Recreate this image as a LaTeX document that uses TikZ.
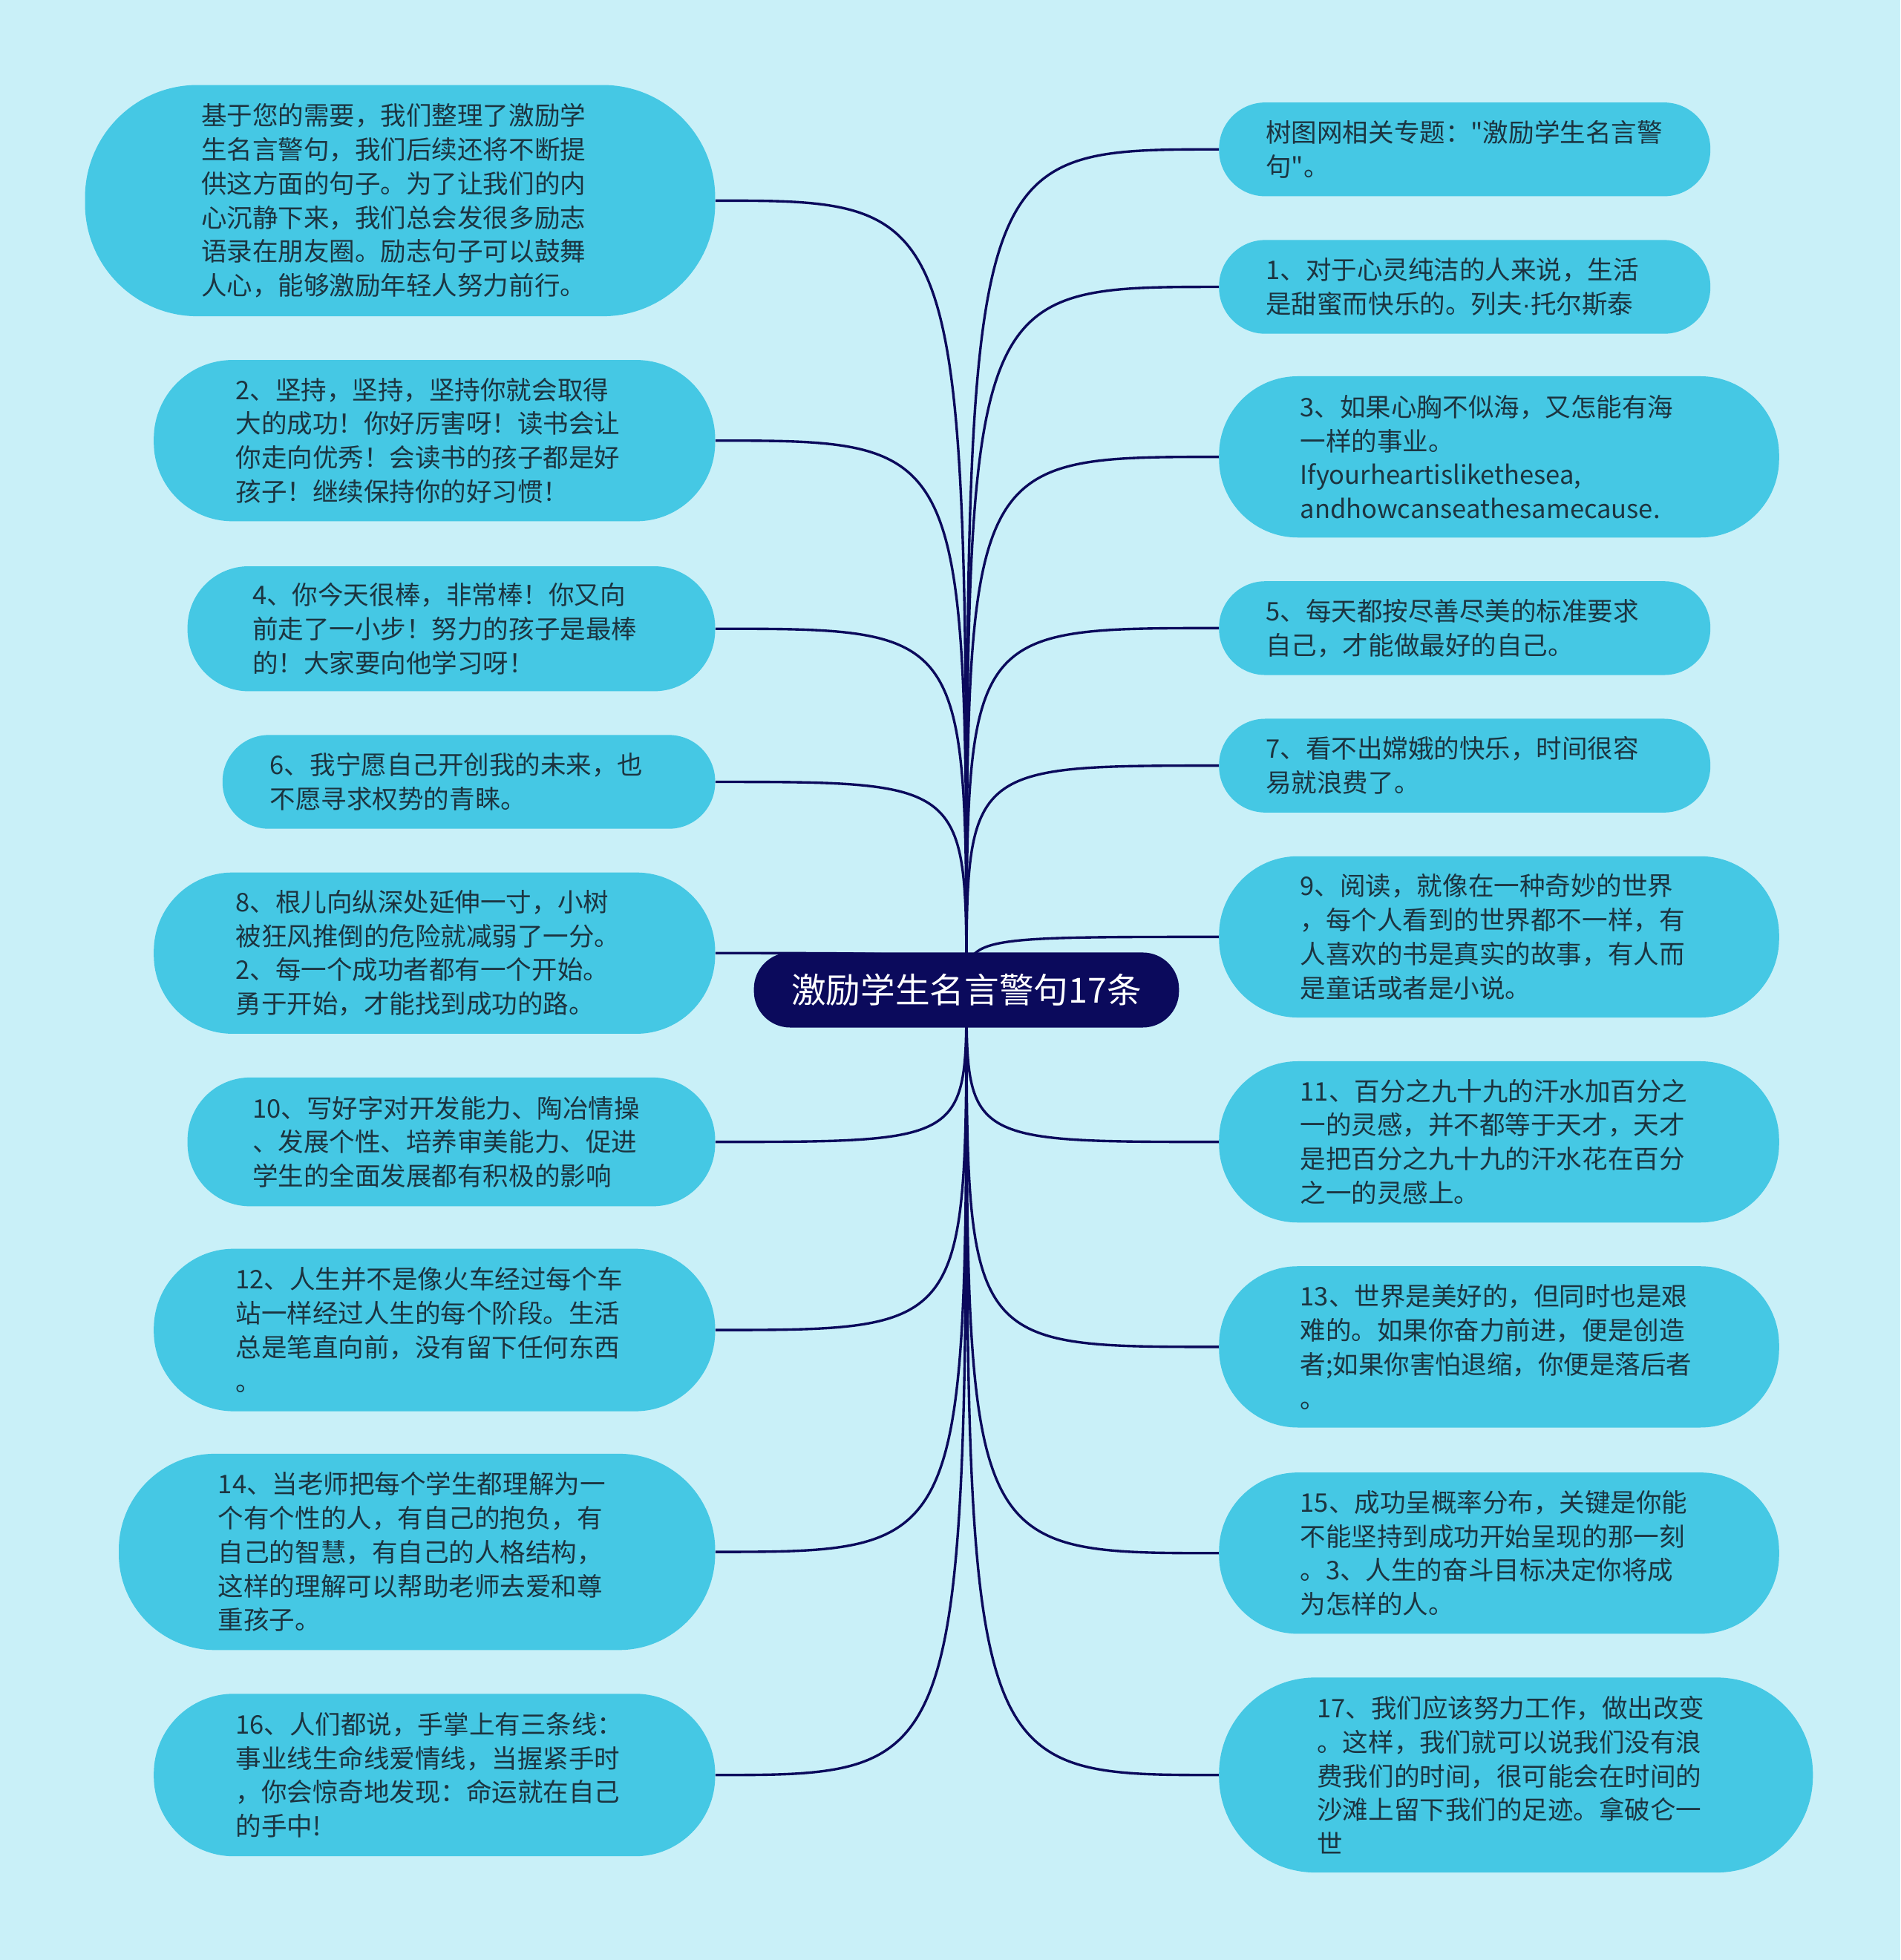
\documentclass[tikz,border=0pt]{standalone}
\usepackage{fontspec}
\setmainfont{Noto Sans CJK SC}[Ligatures=TeXOff]
\newfontfamily\dotfont{Liberation Sans}
\usepackage{xcolor}
\definecolor{paper}{HTML}{C9F0F8}
\definecolor{leaf}{HTML}{45C8E4}
\definecolor{navy}{HTML}{0B0A5C}
\definecolor{ink}{HTML}{1C3440}
\pgfdeclarelayer{paperlayer}
\pgfdeclarelayer{edgelayer}
\pgfsetlayers{paperlayer,edgelayer,main}
\tikzset{
  quote/.style={fill=leaf, text=ink, text width=318pt, align=left, inner sep=0pt,
    font=\fontsize{20.5pt}{27.2pt}\selectfont},
  branch/.style={navy, line width=2pt}
}
\begin{document}
\begin{tikzpicture}[x=1pt,y=-1pt]
% page
\begin{pgfonlayer}{paperlayer}
\fill[paper] (0,0) rectangle (1520,1568);
\end{pgfonlayer}
\useasboundingbox (0,0) rectangle (1520,1568);

% root
\node[fill=navy, text=white, minimum width=340pt, minimum height=60pt, rounded corners=29pt,
  font=\fontsize{27.7pt}{33pt}\selectfont] (root) at (773,792) {激励学生名言警句17条};

% left quotes
\node[quote, minimum width=504pt, minimum height=185pt, rounded corners=90pt] (L1) at (320,160.5)
  {基于您的需要，我们整理了激励学\\生名言警句，我们后续还将不断提\\供这方面的句子。为了让我们的内\\心沉静下来，我们总会发很多励志\\语录在朋友圈。励志句子可以鼓舞\\人心，能够激励年轻人努力前行。};
\node[quote, minimum width=449pt, minimum height=129pt, rounded corners=63pt] (L2) at (347.5,352.5)
  {2、坚持，坚持，坚持你就会取得\\大的成功！你好厉害呀！读书会让\\你走向优秀！会读书的孩子都是好\\孩子！继续保持你的好习惯！};
\node[quote, minimum width=422pt, minimum height=100pt, rounded corners=49pt] (L3) at (361,503)
  {4、你今天很棒，非常棒！你又向\\前走了一小步！努力的孩子是最棒\\的！大家要向他学习呀！};
\node[quote, minimum width=394pt, minimum height=75pt, rounded corners=37pt] (L4) at (375,625.5)
  {6、我宁愿自己开创我的未来，也\\不愿寻求权势的青睐。};
\node[quote, minimum width=449pt, minimum height=129pt, rounded corners=63pt] (L5) at (347.5,762.5)
  {8、根儿向纵深处延伸一寸，小树\\被狂风推倒的危险就减弱了一分。\\2、每一个成功者都有一个开始。\\勇于开始，才能找到成功的路。};
\node[quote, minimum width=422pt, minimum height=103pt, rounded corners=50pt] (L6) at (361,913.5)
  {10、写好字对开发能力、陶冶情操\\、发展个性、培养审美能力、促进\\学生的全面发展都有积极的影响};
\node[quote, minimum width=449pt, minimum height=130pt, rounded corners=64pt] (L7) at (347.5,1064)
  {12、人生并不是像火车经过每个车\\站一样经过人生的每个阶段。生活\\总是笔直向前，没有留下任何东西\\。};
\node[quote, minimum width=477pt, minimum height=157pt, rounded corners=77pt] (L8) at (333.5,1241.5)
  {14、当老师把每个学生都理解为一\\个有个性的人，有自己的抱负，有\\自己的智慧，有自己的人格结构，\\这样的理解可以帮助老师去爱和尊\\重孩子。};
\node[quote, minimum width=449pt, minimum height=130pt, rounded corners=64pt] (L9) at (347.5,1420)
  {16、人们都说，手掌上有三条线：\\事业线生命线爱情线，当握紧手时\\，你会惊奇地发现：命运就在自己\\的手中!};

% right quotes
\node[quote, minimum width=393pt, minimum height=75pt, rounded corners=37pt] (R1) at (1171.5,119.5)
  {树图网相关专题："激励学生名言警\\句"。};
\node[quote, minimum width=393pt, minimum height=75pt, rounded corners=37pt] (R2) at (1171.5,229.5)
  {1、对于心灵纯洁的人来说，生活\\是甜蜜而快乐的。列夫{\dotfont ·}托尔斯泰};
\node[quote, minimum width=448pt, minimum height=129pt, rounded corners=63pt] (R3) at (1199,365.5)
  {3、如果心胸不似海，又怎能有海\\一样的事业。\\Ifyourheartislikethesea,\\andhowcanseathesamecause.};
\node[quote, minimum width=393pt, minimum height=75pt, rounded corners=37pt] (R4) at (1171.5,502.5)
  {5、每天都按尽善尽美的标准要求\\自己，才能做最好的自己。};
\node[quote, minimum width=393pt, minimum height=75pt, rounded corners=37pt] (R5) at (1171.5,612.5)
  {7、看不出嫦娥的快乐，时间很容\\易就浪费了。};
\node[quote, minimum width=448pt, minimum height=129pt, rounded corners=63pt] (R6) at (1199,749.5)
  {9、阅读，就像在一种奇妙的世界\\，每个人看到的世界都不一样，有\\人喜欢的书是真实的故事，有人而\\是童话或者是小说。};
\node[quote, minimum width=448pt, minimum height=129pt, rounded corners=63pt] (R7) at (1199,913.5)
  {11、百分之九十九的汗水加百分之\\一的灵感，并不都等于天才，天才\\是把百分之九十九的汗水花在百分\\之一的灵感上。};
\node[quote, minimum width=448pt, minimum height=129pt, rounded corners=63pt] (R8) at (1199,1077.5)
  {13、世界是美好的，但同时也是艰\\难的。如果你奋力前进，便是创造\\者;如果你害怕退缩，你便是落后者\\。};
\node[quote, minimum width=448pt, minimum height=129pt, rounded corners=63pt] (R9) at (1199,1242.5)
  {15、成功呈概率分布，关键是你能\\不能坚持到成功开始呈现的那一刻\\。3、人生的奋斗目标决定你将成\\为怎样的人。};
\node[quote, minimum width=475pt, minimum height=156pt, rounded corners=77pt] (R10) at (1212.5,1420)
  {17、我们应该努力工作，做出改变\\。这样，我们就可以说我们没有浪\\费我们的时间，很可能会在时间的\\沙滩上留下我们的足迹。拿破仑一\\世};

% branches
\begin{pgfonlayer}{edgelayer}
\foreach \n in {L1,L2,L3,L4,L5,L6,L7,L8,L9}
  \draw[branch] (root.center) .. controls (root.center |- \n.east) .. (\n.east);
\foreach \n in {R1,R2,R3,R4,R5,R6,R7,R8,R9,R10}
  \draw[branch] (root.center) .. controls (root.center |- \n.west) .. (\n.west);
\end{pgfonlayer}
\end{tikzpicture}
\end{document}
